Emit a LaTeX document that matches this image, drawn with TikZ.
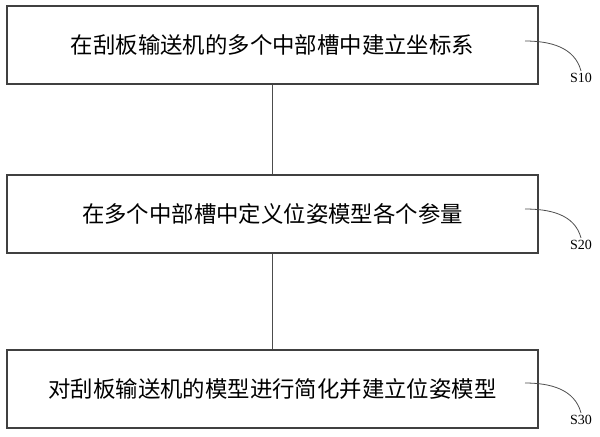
\documentclass[tikz,border=0pt]{standalone}
\usepackage{fontspec}
\usepackage{tikz}
\setmainfont{Liberation Serif}
\newfontfamily\cjk{Noto Sans CJK SC}
\usetikzlibrary{positioning}

\tikzset{
    stepbox/.style={draw=black!75, line width=0.6pt, minimum width=265.5pt, minimum height=39pt, inner sep=0pt, font=\cjk\fontsize{11.2}{13}\selectfont},
    tag/.style={font=\fontsize{7}{8}\selectfont, inner sep=1pt},
    lead/.style={draw=black!70, line width=0.4pt}
}

\begin{document}
\begin{tikzpicture}[x=0.5pt, y=-0.5pt]
    \useasboundingbox (0,0) rectangle (600,436);
    % Steps
    \node[stepbox] (s10) at (272.5,45) {在刮板输送机的多个中部槽中建立坐标系};
    \node[stepbox] (s20) at (272.5,214) {在多个中部槽中定义位姿模型各个参量};
    \node[stepbox] (s30) at (272.5,389) {对刮板输送机的模型进行简化并建立位姿模型};
    \draw[lead] (s10) -- (s20);
    \draw[lead] (s20) -- (s30);

    % Step labels
    \node[tag] (l10) at (581,78) {S10};
    \node[tag] (l20) at (581,245) {S20};
    \node[tag] (l30) at (581,420) {S30};
    \coordinate (t10) at (525,41);
    \coordinate (t20) at (525,209);
    \coordinate (t30) at (525,383);
    \draw[lead] (t10) to[out=0, in=105] (l10.north);
    \draw[lead] (t20) to[out=0, in=105] (l20.north);
    \draw[lead] (t30) to[out=0, in=105] (l30.north);
\end{tikzpicture}
\end{document}
